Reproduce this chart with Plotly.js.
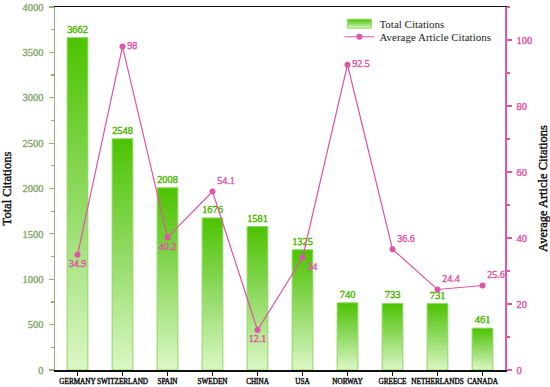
<!DOCTYPE html>
<html>
<head>
<meta charset="utf-8">
<script src="https://cdn.plot.ly/plotly-3.0.1.min.js"></script>
<style>
html,body{margin:0;padding:0;background:#fff;}
#chart{width:550px;height:387px;}
</style>
</head>
<body>
<div id="chart"></div>
<script>
const countries = ["GERMANY","SWITZERLAND","SPAIN","SWEDEN","CHINA","USA","NORWAY","GREECE","NETHERLANDS","CANADA"];
const totalCitations = [3662,2548,2008,1676,1581,1325,740,733,731,461];
const avgCitations = [34.9,98,40.2,54.1,12.1,34,92.5,36.6,24.4,25.6];
const avgLabels = ["34.9","98","40.2","54.1","12.1","34","92.5","36.6","24.4","25.6"];
const avgLabelPos = ["bottom center","middle right","bottom center","top right","bottom center","bottom right","middle right","top right","top right","top right"];

const serif = "Liberation Serif";
const pink = "#e055a8";
const leftAxisColor = "#93b07a";
const barColor = "#7fd640";

const traces = [
  {
    type: "bar",
    name: "Total Citations",
    x: countries,
    y: totalCitations,
    width: 0.46,
    marker: {color: barColor, line: {color: "#8fd660", width: 1}},
    text: totalCitations.map(String),
    textposition: "outside",
    cliponaxis: false,
    textfont: {family: serif, size: 10.5, color: "#4cb400"},
    yaxis: "y",
    legend: "legend"
  },
  {
    type: "scatter",
    mode: "lines+markers+text",
    name: "Average Article Citations",
    x: countries,
    y: avgCitations,
    yaxis: "y2",
    line: {color: pink, width: 1.2},
    marker: {color: pink, size: 6},
    text: avgLabels,
    textposition: avgLabelPos,
    cliponaxis: false,
    textfont: {family: serif, size: 10, color: pink},
    legend: "legend2"
  }
];

const legendCommon = {
  xanchor: "left", yanchor: "middle",
  font: {family: serif, size: 11, color: "#222"},
  bgcolor: "rgba(0,0,0,0)",
  borderwidth: 0
};

const layout = {
  width: 550,
  height: 387,
  margin: {l: 55, r: 45, t: 7, b: 17},
  paper_bgcolor: "#fff",
  plot_bgcolor: "#fff",
  font: {family: serif},
  showlegend: true,
  legend: Object.assign({x: 0.632, y: 0.954}, legendCommon),
  legend2: Object.assign({x: 0.632, y: 0.918}, legendCommon),
  xaxis: {
    type: "category",
    range: [-0.5, 9.5],
    showline: true, linecolor: "#111", linewidth: 1.5,
    mirror: true,
    ticks: "outside", ticklen: 4, tickcolor: "#111", tickwidth: 1.2,
    tickfont: {family: serif, size: 7.2, color: "#111"},
    showgrid: false, zeroline: false,
    tickangle: 0
  },
  yaxis: {
    range: [0, 4000],
    dtick: 500,
    showline: true, linecolor: leftAxisColor, linewidth: 1.5,
    ticks: "outside", ticklen: 5, tickcolor: leftAxisColor, tickwidth: 1.2,
    ticklabelstandoff: 3,
    minor: {ticks: "outside", ticklen: 3, dtick: 250, tickcolor: leftAxisColor, showgrid: false},
    tickfont: {family: serif, size: 10.5, color: "#8aa870"},
    showgrid: false, zeroline: false,
    title: {text: "Total Citations", font: {family: serif, size: 12.5, color: "#111"}, standoff: 9}
  },
  yaxis2: {
    overlaying: "y",
    side: "right",
    range: [0, 110],
    dtick: 20,
    showline: true, linecolor: pink, linewidth: 1.5,
    ticks: "outside", ticklen: 5, tickcolor: pink, tickwidth: 1.2,
    ticklabelstandoff: 3,
    minor: {ticks: "outside", ticklen: 3, dtick: 10, tickcolor: pink, showgrid: false},
    tickfont: {family: serif, size: 10.5, color: pink},
    showgrid: false, zeroline: false,
    title: {text: "Average Article Citations", font: {family: serif, size: 12.5, color: "#111"}, standoff: 7}
  }
};

function fauxBold(nodes, w) {
  nodes.forEach(function(t){
    const c = t.style.fill || window.getComputedStyle(t).fill;
    t.style.stroke = c;
    t.style.strokeWidth = w + "px";
    t.style.paintOrder = "stroke";
    t.style.strokeLinejoin = "round";
  });
}

function decorate(gd) {
  const svg = gd.querySelector("svg.main-svg");
  const ns = "http://www.w3.org/2000/svg";
  if (!document.getElementById("barGrad")) {
    let defs = svg.querySelector("defs");
    if (!defs) { defs = document.createElementNS(ns, "defs"); svg.insertBefore(defs, svg.firstChild); }
    const grad = document.createElementNS(ns, "linearGradient");
    grad.setAttribute("id", "barGrad");
    grad.setAttribute("x1", "0"); grad.setAttribute("y1", "0");
    grad.setAttribute("x2", "0"); grad.setAttribute("y2", "1");
    [["0%", "#4cc300"], ["45%", "#8ad85a"], ["100%", "#dcf7c6"]].forEach(function(s){
      const st = document.createElementNS(ns, "stop");
      st.setAttribute("offset", s[0]);
      st.setAttribute("stop-color", s[1]);
      grad.appendChild(st);
    });
    defs.appendChild(grad);
  }
  gd.querySelectorAll(".trace.bars .point path").forEach(function(p){ p.style.fill = "url(#barGrad)"; });
  gd.querySelectorAll(".legendpoints path").forEach(function(p){
    const f = (p.style.fill || "").replace(/\s/g, "");
    if (p.classList.contains("legendbar") || f === "rgb(127,214,64)" || f === "url(\"#barGrad\")" || f === "url(#barGrad)") {
      p.setAttribute("d", "M12,4.5H-12V-4.5H12Z");
      p.style.fill = "url(#barGrad)";
      p.style.stroke = "#8fd660";
    }
  });
  fauxBold(gd.querySelectorAll(".xtick text, .ytick text, .y2tick text, .g-ytitle text, .g-y2title text, .ytitle, .y2title, .bartext, .trace.scatter .textpoint text"), 0.4);
}

Plotly.newPlot("chart", traces, layout, {displayModeBar: false, staticPlot: true}).then(function(gd){
  decorate(gd);
  setTimeout(function(){ decorate(gd); }, 50);
});
</script>
</body>
</html>
